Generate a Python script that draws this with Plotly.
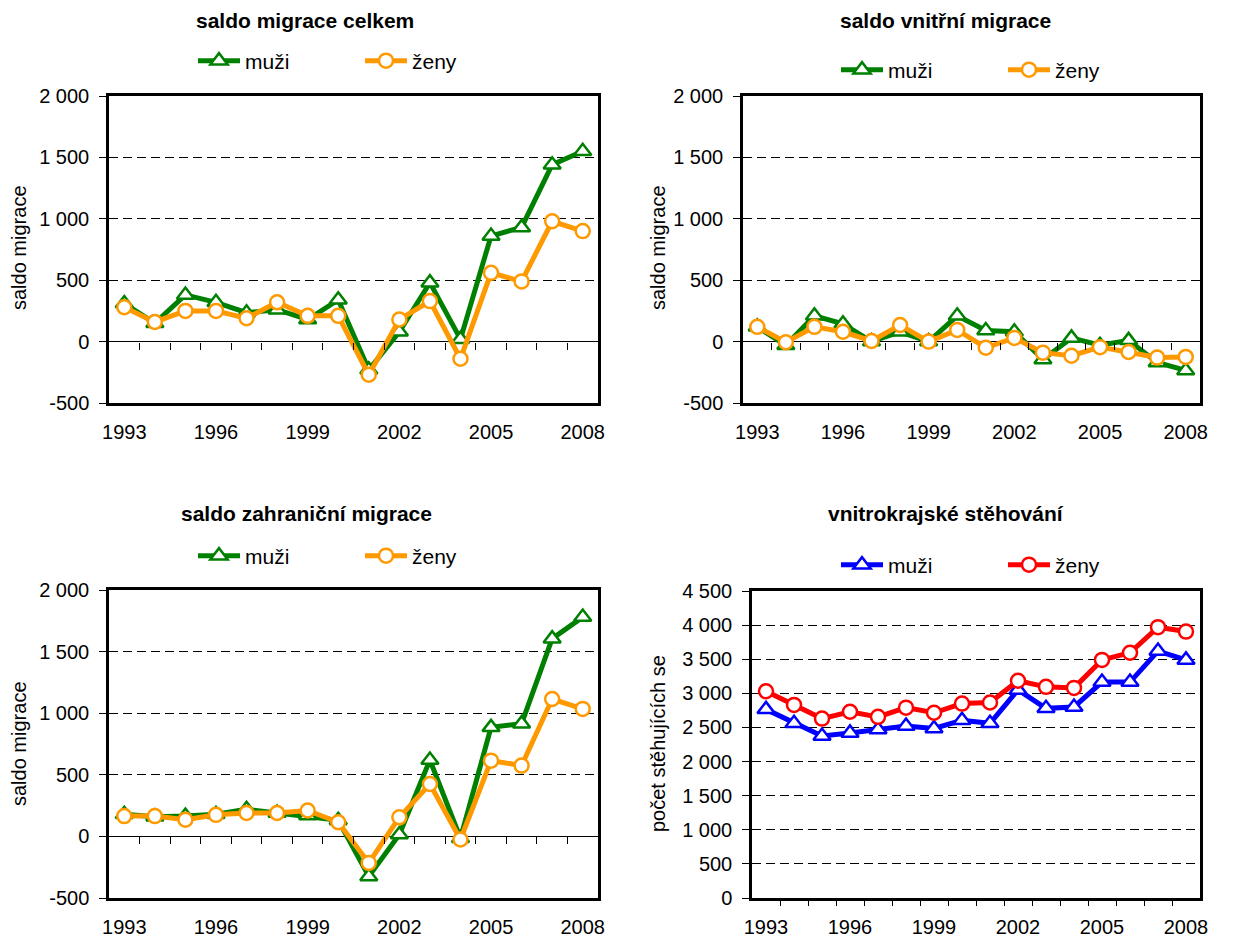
import plotly.graph_objects as go

# ---------------- data ----------------
years = list(range(1993, 2009))
year_ticks = [1993, 1996, 1999, 2002, 2005, 2008]
year_labels = ["1993", "1996", "1999", "2002", "2005", "2008"]

celkem_muzi = [310, 150, 380, 320, 235, 260, 180, 340, -230, 80, 480, 20, 860, 930, 1440, 1550]
celkem_zeny = [280, 160, 250, 250, 190, 320, 210, 210, -270, 180, 330, -140, 560, 490, 980, 900]

vnitrni_muzi = [120, -30, 210, 145, 0, 80, 0, 210, 90, 80, -145, 30, -30, 10, -170, -235]
vnitrni_zeny = [120, -5, 120, 80, 5, 135, 0, 95, -50, 30, -90, -115, -45, -85, -130, -125]

zahranicni_muzi = [180, 160, 165, 180, 220, 190, 170, 130, -325, 15, 620, -15, 885, 915, 1605, 1780]
zahranicni_zeny = [165, 165, 135, 175, 190, 190, 210, 115, -215, 155, 425, -25, 615, 575, 1115, 1035]

kraj_muzi = [2765, 2560, 2375, 2420, 2470, 2520, 2485, 2605, 2560, 3050, 2780, 2800, 3165, 3165, 3620, 3490]
kraj_zeny = [3030, 2830, 2630, 2730, 2655, 2790, 2715, 2850, 2865, 3185, 3095, 3080, 3490, 3595, 3970, 3905]

saldo_ticks = [-500, 0, 500, 1000, 1500, 2000]
saldo_labels = ["-500", "0", "500", "1 000", "1 500", "2 000"]
kraj_ticks = [0, 500, 1000, 1500, 2000, 2500, 3000, 3500, 4000, 4500]
kraj_labels = ["0", "500", "1 000", "1 500", "2 000", "2 500", "3 000", "3 500", "4 000", "4 500"]

titles = ["saldo migrace celkem", "saldo vnitřní migrace",
          "saldo zahraniční migrace", "vnitrokrajské stěhování"]
ytitles = ["saldo migrace", "saldo migrace", "saldo migrace", "počet stěhujících se"]
names = ["muži", "ženy"]

# ---------------- layout geometry (pixels in the 1248x937 page) ----------------
PAGE_W, PAGE_H = 1248, 937
OFF = 8  # default body margin of the html page
W, H = PAGE_W - OFF, PAGE_H - OFF
FONT = "Arial, Liberation Sans, sans-serif"
GREEN, ORANGE, BLUE, RED = "#008000", "#FF9900", "#0000FF", "#FF0000"


def fx(px):
    return (px - OFF) / W


def fy(py):
    return 1 - (py - OFF) / H


panels = [
    dict(x=(109, 598), y=(96, 403), rng=(-500, 2000), ticks=saldo_ticks, labels=saldo_labels,
         data=(celkem_muzi, celkem_zeny), colors=(GREEN, ORANGE),
         title=(305, 8), leg=(193, 61), ytitle=(19, 248)),
    dict(x=(743, 1200), y=(96, 403), rng=(-500, 2000), ticks=saldo_ticks, labels=saldo_labels,
         data=(vnitrni_muzi, vnitrni_zeny), colors=(GREEN, ORANGE),
         title=(945, 8), leg=(836, 70), ytitle=(658, 248)),
    dict(x=(109, 598), y=(590, 898), rng=(-500, 2000), ticks=saldo_ticks, labels=saldo_labels,
         data=(zahranicni_muzi, zahranicni_zeny), colors=(GREEN, ORANGE),
         title=(306, 501), leg=(193, 556), ytitle=(19, 744)),
    dict(x=(752, 1200), y=(591, 898), rng=(0, 4500), ticks=kraj_ticks, labels=kraj_labels,
         data=(kraj_muzi, kraj_zeny), colors=(BLUE, RED),
         title=(946, 501), leg=(836, 565), ytitle=(658, 744)),
]

fig = go.Figure()
layout = dict(template="none", width=W, height=H, margin=dict(l=0, r=0, t=0, b=0, pad=0),
              paper_bgcolor="white", plot_bgcolor="white",
              font=dict(family=FONT, color="black", size=20),
              showlegend=True, annotations=[], hovermode=False)

boundaries = [y + 0.5 for y in years[:-1]]

for i, p in enumerate(panels):
    k = i + 1
    sx = "" if k == 1 else str(k)
    xd = [fx(p["x"][0]), fx(p["x"][1])]
    yd = [fy(p["y"][1]), fy(p["y"][0])]
    legname = "legend" if k == 1 else f"legend{k}"
    ymin, ymax = p["rng"]

    # main axes (frame + labels)
    layout[f"xaxis{sx}"] = dict(domain=xd, anchor=f"y{sx}", range=[1992.5, 2008.5],
                                tickvals=year_ticks, ticktext=year_labels,
                                ticks="outside", ticklen=1, tickcolor="rgba(0,0,0,0)",
                                ticklabelstandoff=8, automargin=False,
                                showline=True, linecolor="black", linewidth=2.5, mirror=True,
                                showgrid=False, zeroline=False, fixedrange=True,
                                tickfont=dict(size=20))
    layout[f"yaxis{sx}"] = dict(domain=yd, anchor=f"x{sx}", range=[ymin, ymax],
                                tickvals=p["ticks"], ticktext=p["labels"],
                                ticks="outside", ticklen=7, tickwidth=1, tickcolor="black",
                                ticklabelstandoff=6, automargin=False,
                                showline=True, linecolor="black", linewidth=2.5, mirror=True,
                                showgrid=True, gridcolor="black", gridwidth=1,
                                griddash="9px,5px",
                                zeroline=ymin < 0, zerolinecolor="black", zerolinewidth=1,
                                fixedrange=True, tickfont=dict(size=20))

    # overlay axis giving the category tick marks (on zero line / bottom)
    ok = 4 + k
    if ymin < 0:
        pos = yd[0] + (0 - ymin) / (ymax - ymin) * (yd[1] - yd[0])
    else:
        pos = yd[0]
    layout[f"xaxis{ok}"] = dict(overlaying=f"x{sx}", anchor="free", position=pos,
                                range=[1992.5, 2008.5], tickvals=boundaries,
                                ticks="outside", ticklen=7, tickwidth=1, tickcolor="black",
                                showticklabels=False, showgrid=False, zeroline=False,
                                showline=False, automargin=False, fixedrange=True)
    fig.add_trace(go.Scatter(x=[], y=[], xaxis=f"x{ok}", yaxis=f"y{sx}",
                             showlegend=False, hoverinfo="skip"))

    # data
    for j in range(2):
        col = p["colors"][j]
        fig.add_trace(go.Scatter(
            x=years, y=p["data"][j], name=names[j], mode="lines+markers",
            xaxis=f"x{sx}", yaxis=f"y{sx}", legend=legname,
            line=dict(color=col, width=5),
            marker=dict(symbol="triangle-up" if j == 0 else "circle",
                        size=15 if j == 0 else 14,
                        color="white", line=dict(color=col, width=2.5)),
            cliponaxis=False,
        ))

    layout[legname] = dict(orientation="h", x=fx(p["leg"][0]), xanchor="left",
                           y=fy(p["leg"][1]), yanchor="middle",
                           font=dict(size=21, family=FONT), bgcolor="rgba(0,0,0,0)",
                           borderwidth=0, itemwidth=42,
                           entrywidth=110, entrywidthmode="pixels",
                           itemclick=False, itemdoubleclick=False)

    layout["annotations"].append(dict(
        text=f"<b>{titles[i]}</b>", x=fx(p["title"][0]), y=fy(p["title"][1]),
        xref="paper", yref="paper", xanchor="center", yanchor="top", borderpad=0,
        showarrow=False, font=dict(size=21, family=FONT)))
    layout["annotations"].append(dict(
        text=ytitles[i], x=fx(p["ytitle"][0]), y=fy(p["ytitle"][1]),
        xref="paper", yref="paper", xanchor="center", yanchor="middle", textangle=-90,
        showarrow=False, font=dict(size=20, family=FONT)))

fig.update_layout(**layout)
fig.write_html("out.html")
